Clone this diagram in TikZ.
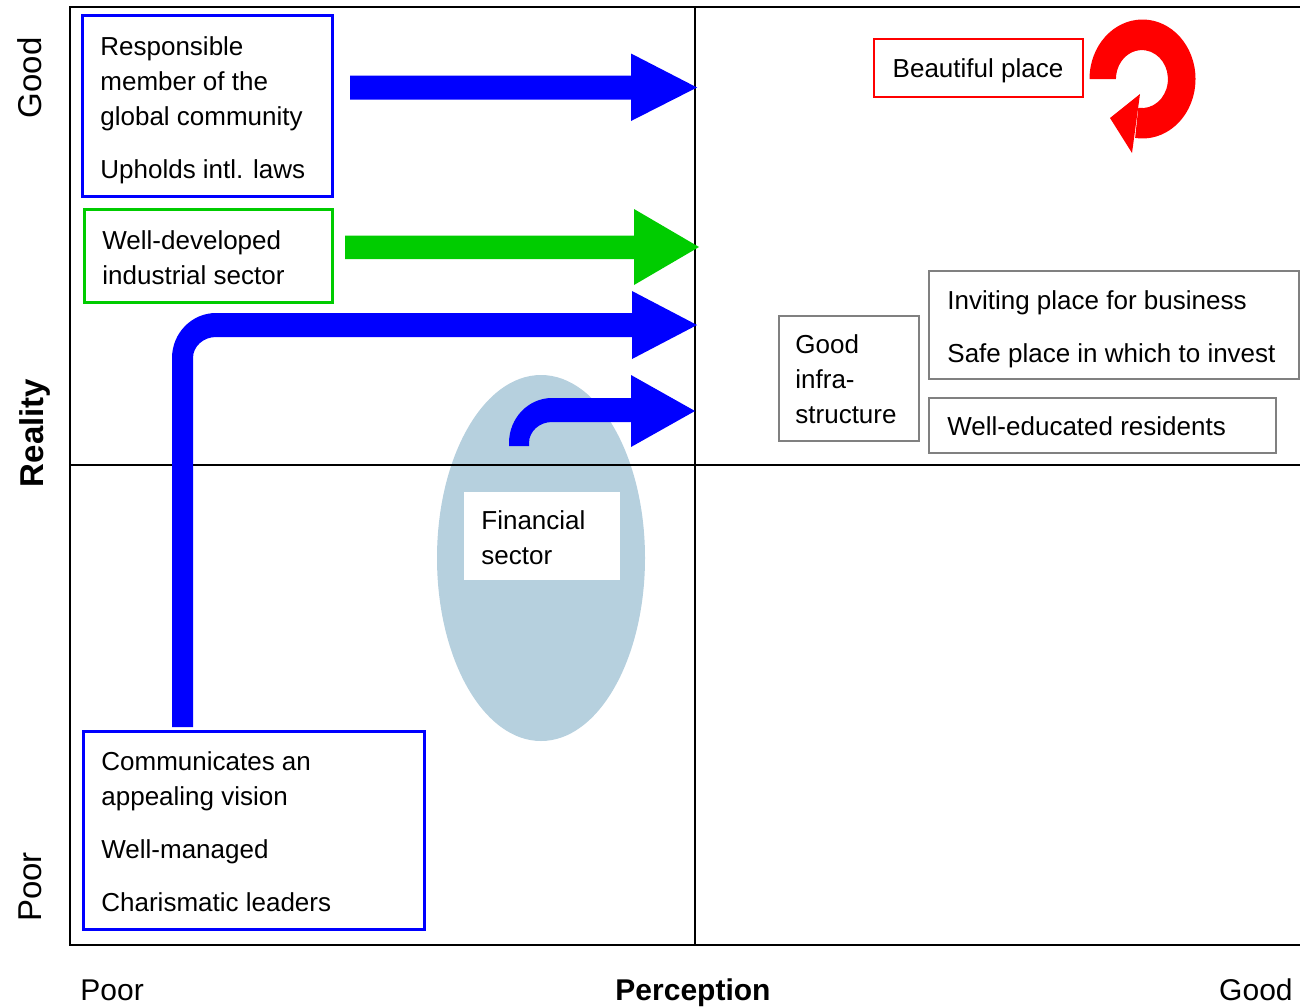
\documentclass[tikz,border=0pt]{standalone}
\usepackage{fontspec}
\setmainfont{Liberation Sans}
\definecolor{ovalblue}{RGB}{182,208,222}
\definecolor{arrowgreen}{RGB}{0,204,0}
\definecolor{boxgray}{RGB}{128,128,128}
\begin{document}
\begin{tikzpicture}[x=0.5pt,y=-0.5pt,
  gridline/.style={line width=1pt,black},
  txt/.style={align=left,inner sep=0pt,font=\fontsize{13pt}{17.5pt}\selectfont},
  axislbl/.style={inner sep=0pt,font=\fontsize{16.5pt}{19pt}\selectfont},
  baselbl/.style={inner sep=0pt,font=\fontsize{15pt}{18pt}\selectfont},
  bluebox/.style={draw=blue,line width=1.5pt,inner sep=0pt},
  greenbox/.style={draw=arrowgreen,line width=1.5pt,inner sep=0pt},
  redbox/.style={draw=red,line width=1pt,inner sep=0pt},
  graybox/.style={draw=boxgray,line width=0.75pt,inner sep=0pt},
  whitebox/.style={fill=white,inner sep=0pt}]
\useasboundingbox (0,0) rectangle (1300,1007);

% shaded oval behind the financial sector
\fill[ovalblue] (541,558) ellipse [x radius=104, y radius=183];

% quadrant frame
\draw[gridline] (1300,7) -- (70,7) -- (70,945) -- (1300,945);
\draw[gridline] (695,7) -- (695,945);
\draw[gridline] (70,465) -- (1300,465);

% axis labels
\node[axislbl,rotate=90,anchor=base] (yGood) at (41,78) {Good};
\node[axislbl,rotate=90,anchor=base] (yReal) at (43,433) {\bfseries Reality};
\node[axislbl,rotate=90,anchor=base] (yPoor) at (41,887) {Poor};
\node[baselbl,anchor=base west] (xPoor) at (80,1000) {Poor};
\node[baselbl,anchor=base] (xPerc) at (693,1000) {\bfseries Perception};
\node[baselbl,anchor=base east] (xGood) at (1293,1000) {Good};

% boxes
\node[bluebox,minimum width=125pt,minimum height=90.5pt] (resp) at (207,105.5) {};
\node[txt,anchor=west] (resptxt) at (100,110.5) {Responsible\\member of the\\global community\\[9pt]Upholds intl. laws};

\node[greenbox,minimum width=124pt,minimum height=46.5pt] (indu) at (208,255.5) {};
\node[txt,anchor=west] (indutxt) at (102,258) {Well-developed\\industrial sector};

\node[bluebox,minimum width=170.5pt,minimum height=99pt] (vision) at (253.5,830) {};
\node[txt,anchor=west] (visiontxt) at (101,832) {Communicates an\\appealing vision\\[9pt]Well-managed\\[9pt]Charismatic leaders};

\node[redbox,minimum width=104.5pt,minimum height=29pt] (beauty) at (978.5,68) {};
\node[txt,anchor=base] (beautytxt) at (978,77.5) {Beautiful place};

\node[graybox,minimum width=70pt,minimum height=62.5pt] (infra) at (849,378.5) {};
\node[txt,anchor=west] (infratxt) at (795,379.5) {Good\\infra-\\structure};

\node[graybox,minimum width=185pt,minimum height=54pt] (biz) at (1114,325) {};
\node[txt,anchor=west] (biztxt) at (947,329) {Inviting place for business\\[9pt]Safe place in which to invest};

\node[graybox,minimum width=173.5pt,minimum height=27.5pt] (edu) at (1102.5,425.5) {};
\node[txt,anchor=base west] (edutxt) at (947,435) {Well-educated residents};

\node[whitebox,minimum width=78pt,minimum height=44pt] (fin) at (542,536) {};
\node[txt,anchor=west] (fintxt) at (481,538) {Financial\\sector};

% block arrows toward the perception divide
\coordinate (tipA) at (697,87.5);
\coordinate (tipB) at (699,247);
\coordinate (tipC) at (697,325);
\coordinate (tipD) at (695,411);

\fill[blue] (350,75.5) -- (631,75.5) -- (631,53.5) -- (tipA) -- (631,121) -- (631,99.5) -- (350,99.5) -- cycle;

\fill[arrowgreen] (345,235.5) -- (634,235.5) -- (634,209) -- (tipB) -- (634,285) -- (634,259) -- (345,259) -- cycle;

\fill[blue] (172,727) -- (172,358) arc[start angle=180,end angle=270,x radius=44,y radius=45]
  -- (632,313) -- (632,291) -- (tipC) -- (632,359) -- (632,337) -- (216,337)
  arc[start angle=270,end angle=180,x radius=23,y radius=21] -- (193,727) -- cycle;

\fill[blue] (509,446) -- (509,443) arc[start angle=180,end angle=270,x radius=43,y radius=45]
  -- (631,398) -- (631,375) -- (tipD) -- (631,447) -- (631,422) -- (552,422)
  arc[start angle=270,end angle=180,x radius=23,y radius=21] -- (529,446) -- cycle;

% circular arrow beside the beautiful place
\fill[red] (1089.5,79) arc[start angle=180,end angle=458,x radius=53,y radius=59.5]
  -- (1138.3,107.8) arc[start angle=458,end angle=180,x radius=26,y radius=29] -- cycle;
\fill[red] (1110,118) -- (1140,94) -- (1132,153) -- cycle;
\end{tikzpicture}
\end{document}
